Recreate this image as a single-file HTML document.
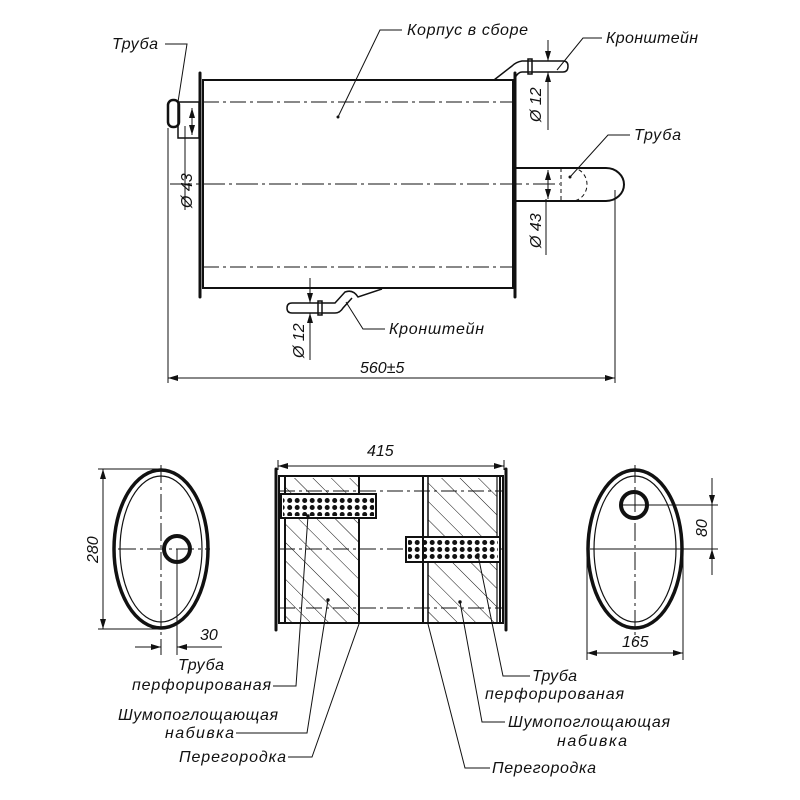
<!DOCTYPE html>
<html><head><meta charset="utf-8"><style>
html,body{margin:0;padding:0;background:#fff}
svg{display:block}
text{font-family:"Liberation Sans","DejaVu Sans",sans-serif;font-style:italic;fill:#111}
</style></head><body>
<svg width="800" height="800" viewBox="0 0 800 800" xmlns="http://www.w3.org/2000/svg">
<defs>
<marker id="a" viewBox="0 0 10 6" refX="10" refY="3" markerWidth="10" markerHeight="6" orient="auto-start-reverse" markerUnits="userSpaceOnUse"><path d="M0,0 L10,3 L0,6 Z" fill="#111"/></marker>
<pattern id="h" patternUnits="userSpaceOnUse" width="13" height="13" patternTransform="rotate(-45)"><line x1="0" y1="0" x2="0" y2="13" stroke="#111" stroke-width="1"/></pattern>
<pattern id="d" patternUnits="userSpaceOnUse" width="7.5" height="7" x="1" y="0"><circle cx="3.7" cy="3.5" r="2.5" fill="#111"/></pattern>
</defs>
<g stroke="#111" fill="none" stroke-width="1">
<!-- TOP VIEW body -->
<rect x="203" y="80" width="310" height="208" stroke-width="2"/>
<line x1="200" y1="73" x2="200" y2="297" stroke-width="3" stroke-linecap="round"/>
<line x1="515" y1="73" x2="515" y2="297" stroke-width="3" stroke-linecap="round"/>
<line x1="203" y1="102" x2="513" y2="102" stroke-dasharray="16,4,3,4"/>
<line x1="203" y1="267" x2="513" y2="267" stroke-dasharray="16,4,3,4"/>
<line x1="170" y1="184" x2="560" y2="184" stroke-dasharray="22,4,3,4"/>
<!-- left pipe -->
<rect x="178" y="102" width="21" height="36" stroke-width="1.5"/>
<rect x="168" y="100" width="11" height="27" rx="5" stroke-width="2.5"/>
<line x1="192" y1="108" x2="192" y2="135" marker-start="url(#a)" marker-end="url(#a)"/>
<!-- right pipe -->
<path d="M516,168 H606 A18,16.5 0 0 1 606,201 H516" stroke-width="2"/>
<path d="M572,168 A15,16.5 0 0 1 572,201" stroke-dasharray="4,3"/>
<line x1="561" y1="168" x2="561" y2="201" stroke-dasharray="4,3"/>
<line x1="548" y1="170" x2="548" y2="199" marker-start="url(#a)" marker-end="url(#a)"/>
<line x1="546" y1="199" x2="546" y2="255"/>
<!-- top bracket -->
<path d="M494,80 L512,66 Q516,62 522,61 H563 Q568,61 568,66 Q568,72 563,72 H522 Q518,72 515,78" stroke-width="1.5"/>
<rect x="528" y="59" width="4" height="15" stroke-width="1.5"/>
<line x1="548" y1="40" x2="548" y2="61" marker-end="url(#a)"/>
<line x1="548" y1="92" x2="548" y2="72" marker-end="url(#a)"/>
<line x1="548" y1="92" x2="548" y2="130"/>
<!-- bottom bracket -->
<path d="M382,289 L358,297 Q353,289 345,292 L335,303 H292 Q287,303 287,308 Q287,313 292,313 H335 Q340,313 343,308 L352,298" stroke-width="1.5"/>
<rect x="318" y="301" width="4" height="14" stroke-width="1.5"/>
<line x1="310" y1="278" x2="310" y2="303" marker-end="url(#a)"/>
<line x1="310" y1="340" x2="310" y2="313" marker-end="url(#a)"/>
<line x1="310" y1="340" x2="310" y2="360"/>
<!-- 560 dim -->
<line x1="168" y1="128" x2="168" y2="383"/>
<line x1="615" y1="190" x2="615" y2="383"/>
<line x1="168" y1="378" x2="615" y2="378" marker-start="url(#a)" marker-end="url(#a)"/>
<!-- top leaders -->
<polyline points="165,44 187,44 178,102"/>
<polyline points="402,30 380,30 338,117"/>
<circle cx="338" cy="117" r="1" fill="#111"/>
<polyline points="602,38 583,38 557,70"/>
<polyline points="630,135 608,135 570,177"/>
<circle cx="570" cy="177" r="1" fill="#111"/>
<polyline points="385,329 363,329 346,302"/>
<polyline points="185,126 185,210"/>
<!-- LEFT OVAL -->
<ellipse cx="161" cy="549" rx="47" ry="79" stroke-width="3.5"/>
<ellipse cx="161" cy="549" rx="41" ry="73" stroke-width="1.2"/>
<circle cx="177" cy="549" r="13" stroke-width="4"/>
<line x1="161" y1="465" x2="161" y2="655" stroke-dasharray="18,4,3,4"/>
<line x1="118" y1="549" x2="210" y2="549" stroke-dasharray="18,4,3,4"/>
<line x1="177" y1="549" x2="177" y2="655"/>
<line x1="98" y1="469" x2="161" y2="469"/>
<line x1="98" y1="629" x2="161" y2="629"/>
<line x1="103" y1="469" x2="103" y2="629" marker-start="url(#a)" marker-end="url(#a)"/>
<line x1="135" y1="647" x2="161" y2="647" marker-end="url(#a)"/>
<line x1="205" y1="647" x2="177" y2="647" marker-end="url(#a)"/>
<line x1="177" y1="647" x2="222" y2="647"/>
<!-- MIDDLE SECTION -->
<rect x="285" y="478" width="74" height="145" fill="url(#h)" stroke="none"/>
<rect x="428" y="478" width="69" height="145" fill="url(#h)" stroke="none"/>
<rect x="279" y="476" width="224" height="147" stroke-width="2"/>
<line x1="276" y1="469" x2="276" y2="630" stroke-width="3" stroke-linecap="round"/>
<line x1="506" y1="469" x2="506" y2="630" stroke-width="3" stroke-linecap="round"/>
<line x1="285" y1="476" x2="285" y2="623" stroke-width="2"/>
<line x1="500" y1="476" x2="500" y2="623" stroke-width="2"/>
<line x1="359" y1="476" x2="359" y2="623" stroke-width="2"/>
<line x1="423" y1="476" x2="423" y2="623" stroke-width="2"/>
<line x1="428" y1="476" x2="428" y2="623" stroke-width="1.5"/>
<line x1="497" y1="476" x2="497" y2="623" stroke-width="1.2"/>
<line x1="279" y1="491" x2="503" y2="491" stroke-dasharray="16,4,3,4"/>
<line x1="279" y1="549" x2="503" y2="549" stroke-dasharray="16,4,3,4"/>
<line x1="279" y1="608" x2="503" y2="608" stroke-dasharray="16,4,3,4"/>
<rect x="281" y="494" width="95" height="24" fill="#fff" stroke-width="2"/>
<rect x="283" y="496" width="91" height="20" fill="url(#d)" stroke="none"/>
<rect x="406" y="537" width="94" height="25" fill="#fff" stroke-width="2"/>
<rect x="408" y="539" width="90" height="21" fill="url(#d)" stroke="none"/>
<line x1="423" y1="537" x2="423" y2="562" stroke-width="2"/>
<line x1="278" y1="460" x2="278" y2="470"/>
<line x1="504" y1="460" x2="504" y2="470"/>
<line x1="278" y1="466" x2="504" y2="466" marker-start="url(#a)" marker-end="url(#a)"/>
<!-- RIGHT OVAL -->
<ellipse cx="635" cy="549" rx="47" ry="79" stroke-width="3.5"/>
<ellipse cx="635" cy="549" rx="41" ry="73" stroke-width="1.2"/>
<circle cx="634" cy="505" r="13" stroke-width="4"/>
<line x1="635" y1="465" x2="635" y2="640" stroke-dasharray="18,4,3,4"/>
<line x1="590" y1="549" x2="718" y2="549"/>
<line x1="620" y1="505" x2="718" y2="505"/>
<line x1="712" y1="478" x2="712" y2="505" marker-end="url(#a)"/>
<line x1="712" y1="575" x2="712" y2="549" marker-end="url(#a)"/>
<line x1="712" y1="505" x2="712" y2="549"/>
<line x1="587" y1="555" x2="587" y2="660"/>
<line x1="683" y1="555" x2="683" y2="660"/>
<line x1="587" y1="653" x2="683" y2="653" marker-start="url(#a)" marker-end="url(#a)"/>
<!-- bottom leaders -->
<polyline points="273,686 296,686 308,516"/>
<circle cx="308" cy="516" r="1.2" fill="#111"/>
<polyline points="236,733 307,733 328,600"/>
<circle cx="328" cy="600" r="1.2" fill="#111"/>
<polyline points="288,757 312,757 359,624"/>
<polyline points="530,676 503,676 478,555"/>
<circle cx="478" cy="555" r="1.2" fill="#111"/>
<polyline points="505,722 482,722 460,602"/>
<circle cx="460" cy="602" r="1.2" fill="#111"/>
<polyline points="490,768 465,768 428,624"/>
</g>
<g font-size="16">
<text x="112" y="49" textLength="46">Труба</text>
<text x="407" y="35" textLength="121">Корпус в сборе</text>
<text x="606" y="43" textLength="92">Кронштейн</text>
<text x="634" y="140" textLength="47">Труба</text>
<text x="389" y="334" textLength="95">Кронштейн</text>
<text x="360" y="373">560±5</text>
<text x="367" y="456">415</text>
<text x="200" y="640">30</text>
<text x="622" y="647">165</text>
<text transform="translate(192,208) rotate(-90)">Ø 43</text>
<text transform="translate(541,248) rotate(-90)">Ø 43</text>
<text transform="translate(541,122) rotate(-90)">Ø 12</text>
<text transform="translate(304,358) rotate(-90)">Ø 12</text>
<text transform="translate(98,563) rotate(-90)">280</text>
<text transform="translate(707,537) rotate(-90)">80</text>
<text x="178" y="670" textLength="46">Труба</text>
<text x="132" y="690" textLength="139">перфорированая</text>
<text x="118" y="720" textLength="160">Шумопоглощающая</text>
<text x="165" y="738" textLength="69">набивка</text>
<text x="179" y="762" textLength="107">Перегородка</text>
<text x="532" y="681" textLength="45">Труба</text>
<text x="485" y="699" textLength="139">перфорированая</text>
<text x="508" y="727" textLength="162">Шумопоглощающая</text>
<text x="557" y="746" textLength="70">набивка</text>
<text x="492" y="773" textLength="104">Перегородка</text>
</g>
</svg>
</body></html>
